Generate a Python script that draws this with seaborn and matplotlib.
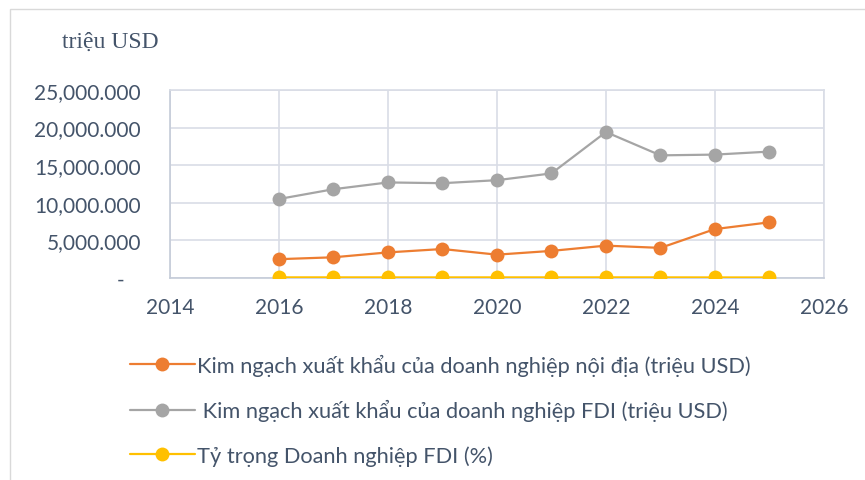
import matplotlib
matplotlib.use("Agg")
import matplotlib.pyplot as plt
import seaborn as sns
import pandas as pd
from matplotlib.lines import Line2D
from matplotlib.patches import Rectangle
from matplotlib.ticker import FuncFormatter, MultipleLocator

years = [2016, 2017, 2018, 2019, 2020, 2021, 2022, 2023, 2024, 2025]
domestic = [2500, 2750, 3400, 3850, 3100, 3600, 4300, 4000, 6500, 7400]
fdi = [10500, 11800, 12700, 12600, 13000, 13900, 19400, 16300, 16400, 16800]
fdi_share = [80.8, 81.1, 78.9, 76.6, 80.8, 79.4, 81.9, 80.3, 71.6, 69.4]

labels = [
    "Kim ngạch xuất khẩu của doanh nghiệp nội địa (triệu USD)",
    " Kim ngạch xuất khẩu của doanh nghiệp FDI (triệu USD)",
    "Tỷ trọng Doanh nghiệp FDI (%)",
]
colors = ["#ED7D31", "#A5A5A5", "#FFC000"]

df = pd.concat([
    pd.DataFrame({"year": years, "value": domestic, "series": labels[0]}),
    pd.DataFrame({"year": years, "value": fdi, "series": labels[1]}),
    pd.DataFrame({"year": years, "value": fdi_share, "series": labels[2]}),
])

sns.set_style("white")
plt.rcParams["font.family"] = ["Lato", "DejaVu Sans"]

fig = plt.figure(figsize=(8.65, 4.81), dpi=100)
ax = fig.add_axes([0.1965, 0.42, 0.756, 0.391])

grid_c = "#D9DDE6"
text_c = "#44546A"

sns.lineplot(data=df, x="year", y="value", hue="series", palette=colors,
             hue_order=labels, marker="o", markersize=10, linewidth=1.6,
             markeredgewidth=0, ax=ax, legend=False, zorder=3)

ax.set_xlim(2014, 2026)
ax.set_ylim(0, 25000)
ax.xaxis.set_major_locator(MultipleLocator(2))
ax.yaxis.set_major_locator(MultipleLocator(5000))
ax.yaxis.set_major_formatter(FuncFormatter(lambda v, p: "-   " if v == 0 else f"{v:,.3f}"))
ax.grid(True, color=grid_c, linewidth=1.2)
ax.set_axisbelow(True)
for s in ax.spines.values():
    s.set_color(grid_c)
    s.set_linewidth(1.2)
ax.spines["left"].set_color("#C5CCD8")
ax.spines["bottom"].set_color("#C5CCD8")
ax.tick_params(axis="both", length=0, labelsize=15, colors=text_c)
ax.tick_params(axis="x", pad=14)
ax.tick_params(axis="y", pad=21)
ax.set_xlabel("")
ax.set_ylabel("")

fig.text(62 / 865, 1 - 42 / 481, "triệu USD", family="Liberation Serif",
         fontsize=17, color=text_c, va="center", ha="left")

handles = [Line2D([0], [0], color=c, marker="o", markersize=10, linewidth=1.6,
                  markeredgewidth=0) for c in colors]
fig.legend(handles, labels, loc="upper left", bbox_to_anchor=(110 / 865, 1 - 335 / 481),
           frameon=False, fontsize=15.7, labelcolor=text_c, handlelength=3.0,
           handletextpad=0.1, labelspacing=1.08)

fig.patches.append(Rectangle((10 / 865, -0.05), 1.0, 1.0 - 10 / 481 + 0.05,
                             transform=fig.transFigure, fill=False,
                             edgecolor="#D9D9D9", linewidth=1.0))

fig.savefig("out.png", dpi=100)
